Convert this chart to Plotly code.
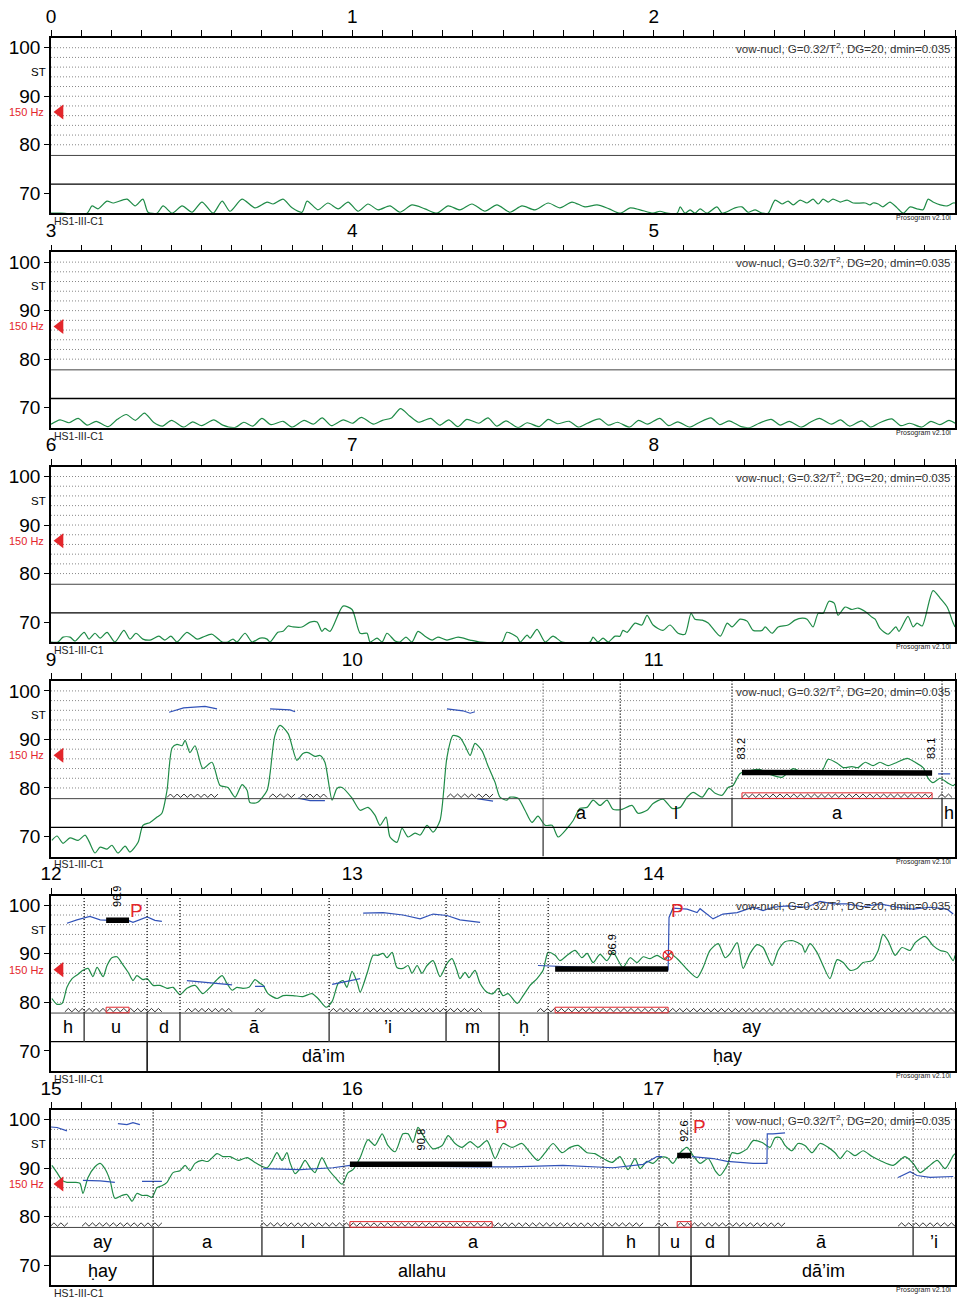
import numpy as np
import plotly.graph_objects as go

# ---------------- data ----------------
SPAN = 3.0
N_PANELS = 6
Y_MIN, Y_MAX = 65.88, 102.0
SEP_TOP, SEP_MID = 77.8, 71.9
HZ150 = 12 * np.log2(150)
GRID_ST = list(range(80, 101, 2))
Y_TICKS = [70, 80, 90, 100]
SPEAKER = "HS1-III-C1"
PARAMS = "vow-nucl, G=0.32/T<sup>2</sup>, DG=20, dmin=0.035"
VERSION = "Prosogram v2.10i"

GREEN_P1 = [(0.000,65.9),(0.033,65.9),(0.120,65.9),(0.136,67.4),(0.156,66.8),(0.186,68.4),(0.206,68.0),(0.252,68.8),(0.279,67.4),(0.305,68.8),(0.322,66.1),(0.352,65.9),(0.372,67.4),(0.402,65.9),(0.435,67.4),(0.468,66.1),(0.501,68.2),(0.538,65.9),(0.568,68.4),(0.594,66.3),(0.634,68.8),(0.677,67.0),(0.717,68.2),(0.737,67.8),(0.770,68.8),(0.800,67.0),(0.833,66.1),(0.850,68.4),(0.886,66.6),
            (0.919,68.0),(0.953,66.8),(0.986,68.2),(1.019,66.3),(1.052,67.8),(1.085,66.6),(1.125,67.4),(1.158,66.1),(1.198,67.6),(1.241,66.8),(1.281,65.9),(1.318,67.4),(1.357,66.6),(1.397,67.8),(1.440,66.3),(1.480,67.6),(1.523,66.1),(1.563,67.4),(1.606,66.6),(1.650,68.0),(1.689,67.0),(1.729,68.2),(1.772,67.2),(1.812,67.6),(1.852,66.8),(1.889,65.9),(1.922,67.0),(1.955,66.6),
            (1.998,65.9),(2.021,66.3),(2.044,65.9),(2.078,65.9),(2.088,67.2),(2.104,65.9),(2.121,66.6),(2.137,65.9),(2.154,66.8),(2.177,65.9),(2.210,67.2),(2.227,65.9),(2.247,66.3),(2.270,67.0),(2.293,67.2),(2.313,66.1),(2.337,66.6),(2.360,65.9),(2.380,65.9),(2.403,68.6),(2.426,67.8),(2.446,68.4),(2.463,67.6),(2.486,68.6),(2.509,68.0),(2.529,68.8),(2.546,67.8),(2.562,68.8),(2.579,68.2),(2.595,68.8),(2.619,68.2),(2.642,68.6),(2.662,68.0),(2.702,68.0),(2.718,67.6),(2.728,68.0),(2.745,67.8),(2.761,67.2),(2.784,68.2),(2.808,67.0),(2.828,65.9),(2.851,67.2),(2.874,66.8),(2.894,66.6),(2.911,68.8),(2.927,68.2),(2.951,67.6),(2.974,67.4),(2.994,68.0),(3.000,68.0)]

GREEN_P2 = [(3.00,66.6),(3.03,67.5),(3.06,66.9),(3.09,67.8),(3.12,66.4),(3.15,67.2),(3.19,66.1),(3.22,67.6),(3.25,68.6),(3.28,67.4),(3.31,68.9),(3.34,67.0),(3.37,66.2),(3.40,67.4),(3.44,66.0),(3.47,67.1),(3.50,66.3),(3.54,67.5),(3.57,66.4),(3.61,65.9),(3.64,67.0),(3.67,66.2),(3.70,67.8),(3.73,66.5),(3.77,67.2),(3.80,66.0),(3.84,67.4),(3.87,66.6),(3.90,67.9),(3.93,66.3),(3.97,67.5),(4.00,66.8),(4.03,68.0),(4.07,66.6),(4.10,67.4),(4.13,67.9),(4.16,69.8),(4.19,68.3),(4.22,67.0),(4.26,67.8),(4.29,66.4),(4.32,67.5),(4.35,66.1),(4.38,67.6),(4.42,66.8),(4.45,67.9),(4.48,66.2),(4.51,67.3),(4.55,65.9),(4.58,66.9),(4.62,66.1),(4.65,67.6),(4.68,66.7),(4.72,67.2),(4.75,66.0),(4.78,66.8),(4.82,67.7),(4.85,66.4),(4.88,67.0),(4.92,66.0),(4.95,67.4),(4.98,66.6),(5.02,67.8),(5.05,66.3),(5.08,67.1),(5.12,66.0),(5.15,66.9),(5.19,67.9),(5.22,66.5),(5.25,67.3),(5.29,66.1),(5.32,65.9),(5.35,66.8),(5.39,67.6),(5.42,66.4),(5.45,67.2),(5.49,66.0),(5.52,67.0),(5.55,67.8),(5.59,66.6),(5.62,67.5),(5.65,66.2),(5.69,67.3),(5.72,66.0),(5.75,66.9),(5.79,67.7),(5.82,66.3),(5.85,66.8),(5.89,66.0),(5.92,67.2),(5.95,66.5),(5.98,67.4),(6.00,66.8)]

GREEN_P3 = [(6.000,65.9),(6.023,65.9),(6.040,66.9),(6.063,66.9),(6.080,66.1),(6.110,67.9),(6.126,66.5),(6.146,67.7),(6.163,66.7),(6.186,67.9),(6.212,65.9),(6.242,68.3),(6.262,66.5),(6.282,67.7),(6.305,66.5),(6.329,66.3),(6.358,67.1),(6.378,66.3),(6.398,67.1),(6.418,65.9),(6.451,67.9),(6.485,66.5),(6.504,66.9),(6.534,67.5),(6.568,65.9),(6.587,65.9),(6.604,66.5),(6.617,65.9),(6.644,67.7),(6.667,65.9),(6.694,66.7),(6.717,66.5),(6.727,65.9),(6.753,67.9),(6.770,68.1),(6.787,69.2),(6.803,69.0),(6.833,69.0),(6.860,70.0),(6.883,70.0),(6.899,68.1),(6.909,68.7),(6.926,68.1),(6.969,73.3),(6.999,72.6),(7.026,67.7),(7.049,67.7),(7.059,65.9),(7.082,66.7),(7.099,65.9),(7.115,67.7),(7.142,66.1),(7.158,65.9),(7.178,66.9),(7.198,65.9),(7.218,68.1),(7.241,67.1),(7.265,66.3),(7.284,66.9),(7.314,66.3),(7.351,66.9),(7.391,66.3),(7.424,65.9),(7.497,65.9),(7.513,67.9),(7.547,66.9),(7.557,65.9),(7.580,67.3),(7.590,66.7),(7.613,68.5),(7.640,65.9),(7.666,67.1),(7.696,65.9),(7.789,65.9),(7.799,66.9),(7.815,65.9),(7.832,66.7),(7.849,65.9),(7.872,67.1),(7.888,67.1),(7.898,68.3),(7.912,67.9),(7.938,69.8),(7.961,69.4),(7.978,71.4),(7.998,69.4),(8.031,68.3),(8.054,69.4),(8.081,67.7),(8.104,67.5),(8.124,71.8),(8.137,70.6),(8.161,70.4),(8.181,69.8),(8.221,67.1),(8.244,69.8),(8.260,69.0),(8.287,70.6),(8.310,70.2),(8.330,68.3),(8.360,68.3),(8.370,69.0),(8.393,67.7),(8.413,69.0),(8.446,69.4),(8.469,70.4),(8.493,70.8),(8.509,70.6),(8.529,69.0),(8.546,71.8),(8.562,71.8),(8.582,74.3),(8.599,73.9),(8.612,71.4),(8.635,73.1),(8.658,72.6),(8.678,72.9),(8.702,72.2),(8.725,71.0),(8.735,70.6),(8.751,68.7),(8.778,67.5),(8.804,69.0),(8.814,68.1),(8.844,71.2),(8.861,69.0),(8.874,69.8),(8.891,69.2),(8.927,76.5),(8.951,74.9),(8.974,73.1),(8.994,69.8),(9.000,69.0)]

GREEN_P4 = [(9.003,69.2),(9.020,70.1),(9.040,68.6),(9.063,69.7),(9.090,69.2),(9.113,70.3),(9.126,69.0),(9.146,66.6),(9.163,67.8),(9.186,67.4),(9.202,68.2),(9.222,66.6),(9.246,68.0),(9.262,66.8),(9.289,68.8),(9.305,72.3),(9.329,72.9),(9.352,74.0),(9.368,74.8),(9.385,79.5),(9.402,88.3),(9.418,89.0),(9.435,88.7),(9.445,89.8),(9.461,87.3),(9.478,88.7),(9.504,84.0),(9.534,85.3),(9.561,80.5),(9.587,80.1),(9.611,78.1),(9.634,80.7),(9.651,79.5),(9.660,77.0),(9.684,77.0),(9.717,79.5),(9.727,83.0),(9.743,90.8),(9.760,92.9),(9.787,91.2),(9.816,85.7),(9.836,87.1),(9.853,87.3),(9.876,86.5),(9.893,86.7),(9.909,85.3),(9.933,77.5),(9.949,79.9),(9.966,80.1),(9.999,77.9),(10.026,75.4),(10.052,76.0),(10.075,74.4),(10.092,72.3),(10.112,74.0),(10.125,69.9),(10.148,68.8),(10.165,71.7),(10.185,69.9),(10.208,70.7),(10.225,70.3),(10.248,72.3),(10.268,70.9),(10.291,73.3),(10.314,86.3),(10.334,90.8),(10.357,90.4),(10.374,88.7),(10.391,86.7),(10.407,89.2),(10.430,87.7),(10.450,84.6),(10.474,81.1),(10.490,78.1),(10.513,77.5),(10.523,78.1),(10.550,77.9),(10.573,75.4),(10.596,72.9),(10.616,74.2),(10.640,72.3),(10.663,72.3),(10.683,69.9),(10.713,71.7),(10.733,73.3),(10.756,75.8),(10.779,76.0),(10.799,77.5),(10.822,76.4),(10.845,77.5),(10.865,75.6),(10.895,75.6),(10.928,76.4),(10.948,74.8),(10.978,75.4),(10.998,76.8),(11.031,77.7),(11.061,75.8),(11.088,76.0),(11.111,78.1),(11.131,79.1),(11.161,78.1),(11.184,79.9),(11.204,78.9),(11.227,78.5),(11.247,80.1),(11.263,80.5),(11.287,83.0),(11.320,83.6),(11.353,83.8),(11.386,82.8),(11.426,82.2),(11.446,83.2),(11.463,84.0),(11.496,83.2),(11.529,83.6),(11.559,83.6),(11.579,85.9),(11.609,85.1),(11.629,84.2),(11.658,84.4),(11.678,84.2),(11.702,85.3),(11.728,84.6),(11.751,85.3),(11.778,84.6),(11.808,85.3),(11.841,86.1),(11.868,85.3),(11.894,84.2),(11.911,82.0),(11.927,81.1),(11.951,82.0),(11.974,81.1),(11.994,80.5),(12.000,80.8)]

GREEN_P5 = [(12.003,80.8),(12.020,79.6),(12.037,79.8),(12.053,83.1),(12.070,84.9),(12.090,85.8),(12.106,86.6),(12.123,87.0),(12.139,85.3),(12.153,87.2),(12.173,85.3),(12.186,87.6),(12.202,89.2),(12.219,89.4),(12.236,88.0),(12.256,86.2),(12.272,84.5),(12.285,85.5),(12.305,84.7),(12.319,84.9),(12.339,83.5),(12.362,83.5),(12.385,82.9),(12.405,83.1),(12.428,81.6),(12.451,82.9),(12.478,83.5),(12.504,81.8),(12.528,83.1),(12.548,84.5),(12.568,85.5),(12.584,83.9),(12.601,82.5),(12.617,83.1),(12.637,82.9),(12.657,83.1),(12.677,84.7),(12.694,83.9),(12.704,83.5),(12.720,81.8),(12.750,80.8),(12.770,81.4),(12.803,81.4),(12.836,81.2),(12.866,81.8),(12.886,80.8),(12.913,79.0),(12.933,80.2),(12.953,83.9),(12.969,84.5),(12.982,83.1),(12.999,86.4),(13.016,84.1),(13.026,82.1),(13.049,86.0),(13.069,89.7),(13.085,89.7),(13.102,90.1),(13.115,89.2),(13.132,90.3),(13.148,87.2),(13.168,87.0),(13.185,87.6),(13.198,86.0),(13.215,87.6),(13.231,86.0),(13.248,87.6),(13.268,88.6),(13.291,85.3),(13.314,88.0),(13.331,89.0),(13.347,86.6),(13.357,84.9),(13.374,86.2),(13.387,85.1),(13.407,86.6),(13.424,83.9),(13.447,82.1),(13.467,81.8),(13.484,82.9),(13.500,81.4),(13.517,81.8),(13.547,79.8),(13.567,81.4),(13.590,83.5),(13.613,84.9),(13.633,86.6),(13.650,90.3),(13.673,89.7),(13.689,88.6),(13.713,89.7),(13.739,90.7),(13.762,89.2),(13.779,90.1),(13.799,88.2),(13.822,89.9),(13.845,88.6),(13.865,90.3),(13.898,87.2),(13.922,89.2),(13.945,88.2),(13.965,89.4),(13.988,89.0),(14.011,89.7),(14.038,88.8),(14.054,90.1),(14.078,89.0),(14.114,86.6),(14.144,85.1),(14.164,87.2),(14.187,90.7),(14.214,92.1),(14.237,89.2),(14.254,90.1),(14.277,92.3),(14.297,87.0),(14.320,90.1),(14.343,91.9),(14.363,91.3),(14.393,87.6),(14.413,90.7),(14.436,92.5),(14.463,92.7),(14.493,91.7),(14.502,90.3),(14.519,92.1),(14.542,90.3),(14.562,87.6),(14.585,84.9),(14.609,88.8),(14.629,88.2),(14.652,86.6),(14.675,87.0),(14.695,88.2),(14.725,88.6),(14.745,90.7),(14.761,94.0),(14.778,92.7),(14.801,89.7),(14.824,91.3),(14.851,90.7),(14.868,92.3),(14.901,93.6),(14.927,91.7),(14.951,90.7),(14.974,90.3),(14.994,88.6),(15.000,89.7)]

GREEN_P6 = [(15.003,90.6),(15.020,89.1),(15.037,87.5),(15.053,87.1),(15.080,87.1),(15.096,86.9),(15.106,84.8),(15.123,88.1),(15.146,90.3),(15.163,91.0),(15.179,89.9),(15.196,87.5),(15.212,83.8),(15.236,84.4),(15.252,84.6),(15.269,83.2),(15.285,84.8),(15.302,84.4),(15.319,84.4),(15.335,84.0),(15.352,86.0),(15.368,86.4),(15.385,87.1),(15.405,89.1),(15.428,89.5),(15.445,90.6),(15.461,89.5),(15.478,91.0),(15.501,91.6),(15.521,91.4),(15.551,93.0),(15.571,92.4),(15.594,92.4),(15.621,91.6),(15.651,92.2),(15.677,91.2),(15.694,90.6),(15.717,90.1),(15.733,91.4),(15.750,93.2),(15.767,91.6),(15.783,93.2),(15.793,91.2),(15.810,88.9),(15.826,89.9),(15.843,91.6),(15.860,90.1),(15.876,89.1),(15.899,92.2),(15.919,89.9),(15.943,88.1),(15.966,86.7),(15.986,89.1),(16.002,89.7),(16.026,92.2),(16.052,95.9),(16.075,94.7),(16.099,97.1),(16.118,94.7),(16.142,93.4),(16.168,97.1),(16.185,97.1),(16.201,95.3),(16.218,98.4),(16.241,96.1),(16.268,94.0),(16.298,94.7),(16.318,96.7),(16.341,95.1),(16.364,94.3),(16.391,95.5),(16.417,94.3),(16.447,95.7),(16.474,92.0),(16.500,95.1),(16.530,94.3),(16.563,95.1),(16.590,93.2),(16.616,91.6),(16.640,93.2),(16.666,95.1),(16.696,93.2),(16.723,94.3),(16.749,94.7),(16.779,93.2),(16.805,93.0),(16.832,92.0),(16.862,91.2),(16.888,92.4),(16.915,89.7),(16.938,92.0),(16.955,89.9),(16.978,91.4),(16.998,91.0),(17.021,92.2),(17.044,92.2),(17.064,91.0),(17.088,93.2),(17.111,94.3),(17.131,92.6),(17.154,91.0),(17.181,92.0),(17.204,89.5),(17.220,88.5),(17.244,90.6),(17.260,93.2),(17.280,93.0),(17.310,94.0),(17.330,95.7),(17.360,95.3),(17.386,94.3),(17.403,96.3),(17.420,96.3),(17.436,94.7),(17.459,93.6),(17.479,95.1),(17.502,94.7),(17.526,93.2),(17.552,95.1),(17.579,94.3),(17.602,93.2),(17.619,92.0),(17.642,93.6),(17.668,92.6),(17.695,93.6),(17.725,92.4),(17.751,91.6),(17.795,90.6),(17.834,92.4),(17.861,91.0),(17.884,89.1),(17.911,90.3),(17.941,91.6),(17.967,89.9),(17.994,92.6),(18.000,93.0)]

GREEN = [GREEN_P1, GREEN_P2, GREEN_P3, GREEN_P4, GREEN_P5, GREEN_P6]

BLUE_SEGMENTS = [
    [(9.392,95.6),(9.440,96.5),(9.511,96.8),(9.551,96.3)],
    [(9.727,96.3),(9.793,96.1),(9.810,95.7)],
    [(9.820,77.9),(9.860,77.4),(9.909,77.4)],
    [(10.314,96.3),(10.367,95.9),(10.391,95.4),(10.407,95.7)],
    [(10.414,77.8),(10.467,77.3)],
    [(11.944,82.9),(11.984,82.9)],
    [(12.053,96.3),(12.086,97.0),(12.129,97.7),(12.163,97.0),(12.196,96.9),(12.256,96.9),(12.272,96.5),(12.319,97.6),(12.345,96.9),(12.368,96.7)],
    [(12.451,84.5),(12.601,83.6)],
    [(12.677,83.3),(12.710,83.3)],
    [(12.933,83.7),(13.026,84.9)],
    [(13.036,98.4),(13.102,98.5),(13.168,98.0),(13.225,97.2),(13.268,98.2),(13.314,97.9),(13.357,97.0),(13.391,96.8),(13.424,96.5)],
    [(13.616,87.6),(13.689,87.4),(13.850,87.0),(14.048,86.7),(14.051,97.5),(14.064,99.4),(14.111,99.2),(14.144,98.5),(14.154,99.3),(14.197,97.2),(14.230,98.2),(14.277,98.5),(14.330,99.6),(14.363,98.9),(14.396,99.6),(14.443,99.9),(14.509,99.6),(14.552,100.8),(14.595,100.3),(14.642,100.3),(14.695,99.7),(14.751,100.3),(14.808,99.6),(14.861,99.2),(14.917,99.6),(14.974,99.2),(14.994,98.2)],
    [(15.000,98.5),(15.020,98.4),(15.053,97.7)],
    [(15.222,99.2),(15.252,99.0),(15.272,99.4),(15.295,99.0)],
    [(15.106,87.5),(15.163,87.4),(15.212,87.1)],
    [(15.302,87.3),(15.368,87.3)],
    [(15.704,89.9),(15.826,89.7),(15.936,90.1),(15.992,90.6),(16.424,90.3),(16.533,90.3),(16.699,90.6),(16.832,90.3),(16.865,90.1),(16.965,90.8),(17.011,92.4),(17.028,92.4)],
    [(17.127,92.4),(17.197,92.0),(17.244,91.4),(17.287,91.2),(17.330,91.0),(17.376,91.0),(17.377,97.1),(17.396,97.1),(17.436,97.3)],
    [(17.811,88.1),(17.851,89.3),(17.874,88.5),(17.917,88.1),(17.994,88.3)],
]

PHONES = [(10.633,10.889,"a"),(10.889,11.260,"l"),(11.260,11.957,"a"),(11.957,12.110,"h"),
          (12.110,12.319,"u"),(12.319,12.428,"d"),(12.428,12.923,"ā"),(12.923,13.311,"’i"),
          (13.311,13.487,"m"),(13.487,13.650,"ḥ"),(13.650,15.339,"ay"),(15.339,15.700,"a"),
          (15.700,15.972,"l"),(15.972,16.832,"a"),(16.832,17.018,"h"),(17.018,17.124,"u"),
          (17.124,17.250,"d"),(17.250,17.861,"ā"),(17.861,18.100,"’i")]
WORDS = [(10.633,12.319,""),(12.319,13.487,"dā’im"),(13.487,15.339,"ḥay"),
         (15.339,17.124,"allahu"),(17.124,18.100,"dā’im")]

ZIGZAGS = [(9.385,9.554),(9.724,9.810),(9.826,9.916),(10.314,10.467),(11.293,11.924),(11.944,11.990),
           (12.046,12.368),(12.445,12.601),(12.677,12.710),(12.926,13.026),(13.036,13.430),(13.613,15.056),
           (15.103,15.368),(15.694,16.965),(17.005,17.048),(17.078,17.436),(17.811,18.000)]
NUCLEI = [(11.293,11.924),(12.183,12.259),(13.673,14.048),(15.992,16.464),(17.078,17.124)]
# stylized tones: start, end, start ST, end ST, labels
TONES = [(11.293,11.924,83.2,83.1,"83.2","83.1"),
         (12.183,12.259,96.9,96.9,"96.9",None),
         (13.673,14.048,86.9,86.9,"86.9",None),
         (15.992,16.464,90.8,90.8,"90.8",None),
         (17.078,17.124,92.6,92.6,"92.6",None)]
PROMINENCE = [(12.285,98.9),(14.078,98.9),(16.494,98.6),(17.151,98.6)]
PITCH_JUMP = [(14.048,89.7)]

# ---------------- layout geometry ----------------
W, H = 959, 1301
LEFT, RIGHT = 51, 955
TOP0, PH, STEP = 38, 175.3, 214.4
FONT = "Liberation Sans, Arial, Helvetica, sans-serif"
GREEN_C, BLUE_C, RED_C = "#1f8b47", "#3152b8", "#e3262b"
DOTS = "1px,2px"

fig = go.Figure()
shapes, annots = [], []


def names(k):
    s = "" if k == 0 else str(k + 1)
    return "x" + s, "y" + s, "xaxis" + s, "yaxis" + s


def zigzag(s, e, period=0.023):
    n = max(2, int(round((e - s) / (period / 2))))
    xs = np.linspace(s, e, n + 1)
    ys = np.where(np.arange(n + 1) % 2 == 0, 78.05, 78.75)
    return xs, ys


for k in range(N_PANELS):
    t0, t1 = k * SPAN, (k + 1) * SPAN
    xa, ya, xn, yn = names(k)
    top = TOP0 + STEP * k
    bot = top + PH
    tv = [round(t0 + i * 0.1, 3) for i in range(31)]
    tt = [str(int(round(v))) if abs(v - round(v)) < 1e-6 else "" for v in tv]
    fig.layout[xn] = dict(domain=[LEFT / W, RIGHT / W], range=[t0, t1], anchor=ya, side="top",
                          tickvals=tv, ticktext=tt, ticks="outside", ticklen=6, tickwidth=1.2,
                          tickcolor="black", showline=True, linecolor="black", linewidth=1.5,
                          mirror=True, showgrid=False, zeroline=False, automargin=False,
                          tickfont=dict(size=19, color="black", family=FONT))
    fig.layout[yn] = dict(domain=[1 - bot / H, 1 - top / H], range=[Y_MIN, Y_MAX], anchor=xa,
                          tickvals=Y_TICKS, ticks="outside", ticklen=5, tickwidth=1.2,
                          tickcolor="black", showline=True, linecolor="black", linewidth=1.5,
                          mirror=True, showgrid=False, zeroline=False, automargin=False,
                          tickfont=dict(size=19, color="black", family=FONT))
    dref = xa + " domain"
    for g in GRID_ST:
        shapes.append(dict(type="line", xref=dref, yref=ya, x0=0, x1=1, y0=g, y1=g, layer="below",
                           line=dict(color="#888888", width=1, dash=DOTS)))
    shapes.append(dict(type="line", xref=dref, yref=ya, x0=0, x1=1, y0=SEP_TOP, y1=SEP_TOP,
                       line=dict(color="#444", width=1)))
    shapes.append(dict(type="line", xref=dref, yref=ya, x0=0, x1=1, y0=SEP_MID, y1=SEP_MID,
                       line=dict(color="black", width=1.3)))

    # phone tier boundaries + labels
    for (s, e, lab) in PHONES:
        for b in (s, e):
            if t0 < b < t1:
                shapes.append(dict(type="line", xref=xa, yref=ya, x0=b, x1=b, y0=SEP_TOP, y1=Y_MAX,
                                   line=dict(color="#222", width=1, dash=DOTS)))
                shapes.append(dict(type="line", xref=xa, yref=ya, x0=b, x1=b, y0=SEP_MID, y1=SEP_TOP,
                                   line=dict(color="#444", width=1)))
        a, z = max(s, t0), min(e, t1)
        if z > a and lab:
            annots.append(dict(x=(a + z) / 2, y=(SEP_TOP + SEP_MID) / 2, xref=xa, yref=ya, text=lab,
                               showarrow=False, font=dict(size=18, color="black", family=FONT)))
    for (s, e, lab) in WORDS:
        for b in (s, e):
            if t0 < b < t1:
                shapes.append(dict(type="line", xref=xa, yref=ya, x0=b, x1=b, y0=Y_MIN, y1=SEP_MID,
                                   line=dict(color="black", width=1)))
        a, z = max(s, t0), min(e, t1)
        if z > a and lab:
            annots.append(dict(x=(a + z) / 2, y=(SEP_MID + Y_MIN) / 2, xref=xa, yref=ya, text=lab,
                               showarrow=False, font=dict(size=18, color="black", family=FONT)))

    # nuclei (red boxes)
    for (s, e) in NUCLEI:
        if s < t1 and e > t0:
            shapes.append(dict(type="rect", xref=xa, yref=ya, x0=s, x1=e, y0=77.85, y1=79.0,
                               line=dict(color=RED_C, width=1)))

    # zigzags
    for (s, e) in ZIGZAGS:
        if s < t1 and e > t0:
            zx, zy = zigzag(s, e)
            fig.add_trace(go.Scatter(x=zx, y=zy, mode="lines", xaxis=xa, yaxis=ya, hoverinfo="skip",
                                     line=dict(color="black", width=0.8)))

    # green curve
    gx = [p[0] for p in GREEN[k]]
    gy = [p[1] for p in GREEN[k]]
    fig.add_trace(go.Scatter(x=gx, y=gy, mode="lines", xaxis=xa, yaxis=ya, hoverinfo="skip",
                             line=dict(color=GREEN_C, width=1.2, shape="spline", smoothing=0.7)))

    # blue segments
    for seg in BLUE_SEGMENTS:
        if seg[0][0] < t1 and seg[-1][0] > t0:
            fig.add_trace(go.Scatter(x=[p[0] for p in seg], y=[p[1] for p in seg], mode="lines",
                                     xaxis=xa, yaxis=ya, hoverinfo="skip",
                                     line=dict(color=BLUE_C, width=1.2)))

    # stylized tones
    for (s, e, v0, v1, l0, l1) in TONES:
        if s < t1 and e > t0:
            fig.add_trace(go.Scatter(x=[s, e], y=[v0, v1], mode="lines", xaxis=xa, yaxis=ya,
                                     hoverinfo="skip", line=dict(color="black", width=5.5)))
            if l1 is None:
                annots.append(dict(x=(s + e) / 2, y=(v0 + v1) / 2, xref=xa, yref=ya, text=l0,
                                   textangle=-90, showarrow=False, yshift=24,
                                   font=dict(size=11, color="black", family=FONT)))
            else:
                annots.append(dict(x=s, y=v0, xref=xa, yref=ya, text=l0, textangle=-90,
                                   showarrow=False, yshift=24, xshift=-1,
                                   font=dict(size=11, color="black", family=FONT)))
                annots.append(dict(x=e, y=v1, xref=xa, yref=ya, text=l1, textangle=-90,
                                   showarrow=False, yshift=24, xshift=-1,
                                   font=dict(size=11, color="black", family=FONT)))

    for (tp, sp) in PROMINENCE:
        if t0 <= tp < t1:
            annots.append(dict(x=tp, y=sp, xref=xa, yref=ya, text="P", showarrow=False,
                               font=dict(size=19, color=RED_C, family=FONT)))
    jx = [p[0] for p in PITCH_JUMP if t0 <= p[0] < t1]
    jy = [p[1] for p in PITCH_JUMP if t0 <= p[0] < t1]
    if jx:
        fig.add_trace(go.Scatter(x=jx, y=jy, mode="markers", xaxis=xa, yaxis=ya, hoverinfo="skip",
                                 marker=dict(symbol="circle-x-open", size=10, color=RED_C,
                                             line=dict(width=1.2, color=RED_C))))

    # 150 Hz reference marker
    fig.add_trace(go.Scatter(x=[t0 + 0.03], y=[HZ150], mode="markers", xaxis=xa, yaxis=ya,
                             hoverinfo="skip",
                             marker=dict(symbol="triangle-left", size=13, color=RED_C)))
    annots.append(dict(x=46 / W, y=HZ150, xref="paper", yref=ya, xanchor="right",
                       yanchor="middle", text="150 Hz",
                       showarrow=False, font=dict(size=11, color=RED_C, family=FONT)))
    annots.append(dict(x=38 / W, y=95, xref="paper", yref=ya, xanchor="center", yanchor="middle",
                       text="ST", showarrow=False, font=dict(size=11.5, color="black", family=FONT)))
    annots.append(dict(x=1, y=100, xref=dref, yref=ya, xanchor="right", yanchor="middle",
                       xshift=-3, text=PARAMS,
                       showarrow=False, font=dict(size=11.5, color="#333", family=FONT)))
    annots.append(dict(x=52 / W, y=1 - (bot + 8) / H, xref="paper", yref="paper", xanchor="left",
                       yanchor="middle", text=SPEAKER, showarrow=False,
                       font=dict(size=10.5, color="#222", family=FONT)))
    annots.append(dict(x=953 / W, y=1 - (bot + 5) / H, xref="paper", yref="paper",
                       xanchor="right", yanchor="middle", text=VERSION, showarrow=False,
                       font=dict(size=7, color="#222", family=FONT)))

fig.update_layout(width=W, height=H, margin=dict(l=0, r=0, t=0, b=0, autoexpand=False),
                  showlegend=False, paper_bgcolor="white", plot_bgcolor="white",
                  shapes=shapes, annotations=annots, font=dict(family=FONT))
fig.write_html("out.html", config={"displayModeBar": False},
               post_script="document.body.style.margin='0';document.body.style.overflow='hidden';")
